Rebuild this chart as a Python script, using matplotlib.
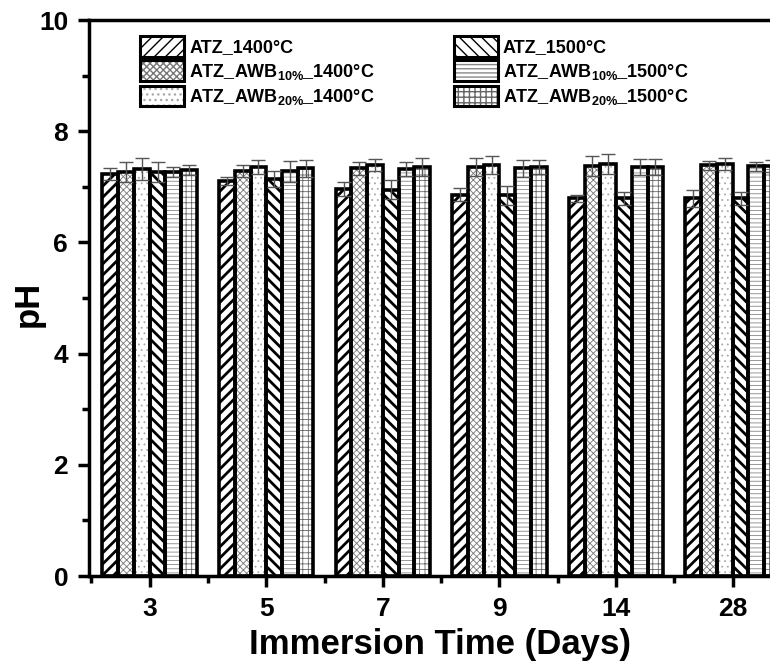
import numpy as np
import matplotlib
matplotlib.use("Agg")
import matplotlib.pyplot as plt
from matplotlib.patches import Rectangle

# data
days = ["3", "5", "7", "9", "14", "28"]
series = ["ATZ_1400°C", r"ATZ_AWB$_{10\%}$_1400°C", r"ATZ_AWB$_{20\%}$_1400°C",
          "ATZ_1500°C", r"ATZ_AWB$_{10\%}$_1500°C", r"ATZ_AWB$_{20\%}$_1500°C"]
ph_atz_1400 = [7.23, 7.10, 6.96, 6.86, 6.79, 6.79]
ph_awb10_1400 = [7.27, 7.28, 7.33, 7.35, 7.38, 7.39]
ph_awb20_1400 = [7.32, 7.36, 7.39, 7.39, 7.41, 7.41]
ph_atz_1500 = [7.27, 7.14, 6.95, 6.85, 6.79, 6.79]
ph_awb10_1500 = [7.27, 7.28, 7.32, 7.33, 7.36, 7.37]
ph_awb20_1500 = [7.30, 7.33, 7.35, 7.36, 7.36, 7.37]
err_atz_1400 = [0.10, 0.07, 0.12, 0.11, 0.07, 0.15]
err_awb10_1400 = [0.18, 0.11, 0.12, 0.16, 0.18, 0.08]
err_awb20_1400 = [0.19, 0.13, 0.11, 0.16, 0.18, 0.10]
err_atz_1500 = [0.18, 0.15, 0.17, 0.17, 0.12, 0.12]
err_awb10_1500 = [0.09, 0.19, 0.13, 0.15, 0.14, 0.08]
err_awb20_1500 = [0.09, 0.16, 0.16, 0.13, 0.14, 0.11]

values = [ph_atz_1400, ph_awb10_1400, ph_awb20_1400,
          ph_atz_1500, ph_awb10_1500, ph_awb20_1500]
errors = [err_atz_1400, err_awb10_1400, err_awb20_1400,
          err_atz_1500, err_awb10_1500, err_awb20_1500]
hatches = ["///", "xxxxx", "...", "\\\\\\", "----", "+++"]
hatch_colors = ["black", "#777777", "#aaaaaa", "black", "#888888", "#666666"]
hatch_lw = [2.0, 0.6, 0.6, 2.0, 0.6, 0.6]

plt.rcParams["font.family"] = ["Liberation Sans", "DejaVu Sans"]
plt.rcParams["font.weight"] = "bold"
plt.rcParams["mathtext.fontset"] = "custom"
plt.rcParams["mathtext.rm"] = "Liberation Sans:bold"
plt.rcParams["mathtext.bf"] = "Liberation Sans:bold"
plt.rcParams["mathtext.default"] = "rm"


def hatch_patch(i, **kw):
    with plt.rc_context({"hatch.linewidth": hatch_lw[i]}):
        p = Rectangle((0, 0), 1, 1, facecolor="white",
                      edgecolor=hatch_colors[i], hatch=hatches[i],
                      linewidth=0, **kw)
    if hasattr(p, "set_hatch_linewidth"):
        p.set_hatch_linewidth(hatch_lw[i])
    return p


fig = plt.figure(figsize=(7.7, 6.68), dpi=100)
ax = fig.add_axes([89 / 770, 92 / 668, 702 / 770, 556 / 668])

x = np.arange(len(days))
width = 0.135
handles = []
for i, (vals, errs) in enumerate(zip(values, errors)):
    pos = x + (i - 2.5) * width
    with plt.rc_context({"hatch.linewidth": hatch_lw[i]}):
        hb = ax.bar(pos, vals, width, color="white", edgecolor=hatch_colors[i],
                    hatch=hatches[i], linewidth=0, zorder=2)
    for p in hb:
        if hasattr(p, "set_hatch_linewidth"):
            p.set_hatch_linewidth(hatch_lw[i])
    ax.bar(pos, vals, width, color="none", edgecolor="black", linewidth=2.6,
           zorder=3)
    ax.errorbar(pos, vals, yerr=errs, fmt="none", ecolor="#555555",
                elinewidth=1.0, capsize=5, capthick=1.0, zorder=4)
    outline = Rectangle((0, 0), 1, 1, facecolor="none", edgecolor="black",
                        linewidth=2.2)
    handles.append((hatch_patch(i), outline))

ax.legend(handles, series, ncol=2, loc="upper left",
          bbox_to_anchor=(0.05, 1.0), frameon=False, fontsize=13,
          handlelength=2.4, handleheight=1.35, columnspacing=4.4,
          labelspacing=0.22, handletextpad=0.3, borderaxespad=0.5)

ax.set_xlim(-0.52, 5.5)
ax.set_ylim(0, 10)
ax.set_xticks(x)
ax.set_xticklabels(days, fontsize=19, fontweight="bold")
ax.set_xticks(np.arange(-0.5, 5.5, 1), minor=True)
ax.set_yticks([0, 2, 4, 6, 8, 10])
ax.set_yticks([1, 3, 5, 7, 9], minor=True)
ax.set_yticklabels(["0", "2", "4", "6", "8", "10"], fontsize=19,
                   fontweight="bold")
ax.tick_params(which="major", direction="out", length=8, width=2.5, pad=7)
ax.tick_params(which="minor", direction="out", length=5, width=2.5)
for s in ax.spines.values():
    s.set_linewidth(2.5)

ax.set_xlabel("Immersion Time (Days)", fontsize=25, fontweight="bold",
              labelpad=5)
ax.set_ylabel("pH", fontsize=25, fontweight="bold")
ax.yaxis.set_label_coords(-0.063, 0.49)

fig.savefig("out.png", dpi=100)
